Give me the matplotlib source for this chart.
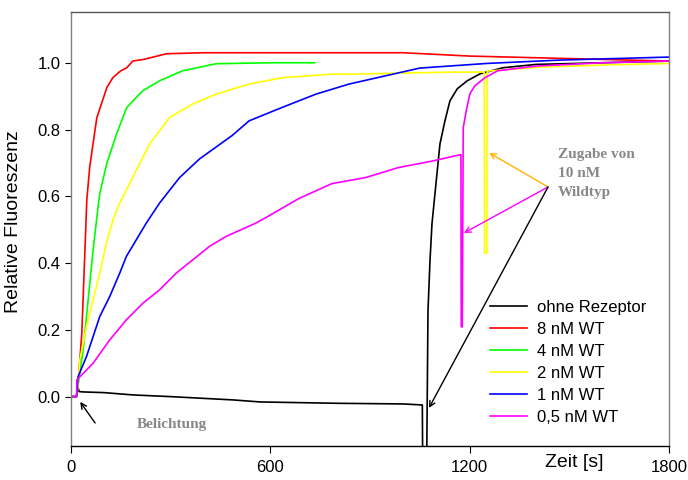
import matplotlib
matplotlib.use("Agg")
import matplotlib.pyplot as plt

plt.rcParams['font.family'] = ['Liberation Sans', 'DejaVu Sans']

# Kinetik-Daten (Zeit in s, relative Fluoreszenz)
t_ohne = [0, 18, 22, 26, 38, 100, 188, 300, 490, 570, 800, 1000, 1058, 1059, 1071, 1075, 1081, 1087,
          1096, 1111, 1126, 1141, 1163, 1193, 1232, 1300, 1400, 1600, 1800]
v_ohne = [0, 0, 0.03, 0.015, 0.014, 0.012, 0.005, 0.0, -0.01, -0.016, -0.02, -0.022, -0.025, -0.2, -0.2,
          0.257, 0.407, 0.518, 0.608, 0.757, 0.826, 0.886, 0.922, 0.946, 0.967, 0.985, 0.995, 1.0, 1.005]

t_8nm = [0, 18, 22, 34, 49, 58, 79, 109, 127, 150, 169, 187, 220, 289, 400, 600, 800, 1000, 1200,
         1400, 1600, 1800]
v_8nm = [0, 0, 0.03, 0.19, 0.59, 0.69, 0.835, 0.925, 0.955, 0.975, 0.985, 1.005, 1.01, 1.027, 1.03,
         1.03, 1.03, 1.03, 1.02, 1.015, 1.01, 1.005]

t_4nm = [0, 18, 22, 38, 53, 68, 83, 88, 109, 139, 169, 217, 268, 337, 438, 600, 735]
v_4nm = [0, 0, 0.03, 0.14, 0.29, 0.44, 0.57, 0.608, 0.698, 0.788, 0.866, 0.916, 0.946, 0.976, 0.997,
         1.0, 1.0]

t_2nm = [0, 18, 22, 28, 48, 68, 88, 108, 128, 148, 157, 187, 238, 298, 367, 438, 536, 636, 786, 857,
         1000, 1150, 1244, 1245, 1252, 1253, 1412, 1600, 1800]
v_2nm = [0, 0, 0.03, 0.11, 0.21, 0.29, 0.37, 0.46, 0.53, 0.58, 0.597, 0.656, 0.757, 0.836, 0.876,
         0.906, 0.936, 0.955, 0.966, 0.966, 0.969, 0.972, 0.972, 0.43, 0.43, 0.975, 0.987, 0.993, 0.998]

t_1nm = [0, 18, 23, 48, 68, 88, 118, 148, 168, 198, 228, 268, 328, 388, 486, 537, 636, 738, 837, 1050,
         1253, 1472, 1800]
v_1nm = [0, 0, 0.06, 0.12, 0.18, 0.24, 0.30, 0.37, 0.42, 0.47, 0.52, 0.58, 0.656, 0.712, 0.782, 0.826,
         0.866, 0.906, 0.936, 0.984, 0.998, 1.008, 1.017]

t_05nm = [0, 18, 19, 68, 118, 168, 218, 268, 318, 368, 418, 468, 558, 587, 686, 786, 887, 986, 1085,
          1174, 1175, 1178, 1181, 1190, 1201, 1216, 1246, 1285, 1400, 1600, 1800]
v_05nm = [0, 0, 0.05, 0.10, 0.17, 0.23, 0.28, 0.32, 0.37, 0.41, 0.45, 0.48, 0.52, 0.536, 0.593, 0.638,
          0.656, 0.686, 0.705, 0.725, 0.209, 0.209, 0.805, 0.856, 0.907, 0.931, 0.955, 0.976, 0.99, 1.0, 1.005]

x_ticks = [0, 600, 1200, 1800]
y_ticks = [0.0, 0.2, 0.4, 0.6, 0.8, 1.0]

fig = plt.figure(figsize=(6.88, 4.8), dpi=100)
ax = fig.add_axes([0.1025, 0.0708, 0.87, 0.9042])

lw = 1.2
ax.plot(t_ohne, v_ohne, color='black', lw=lw, label='ohne Rezeptor')
ax.plot(t_8nm, v_8nm, color='#ff0000', lw=lw, label='8 nM WT')
ax.plot(t_4nm, v_4nm, color='#00ff00', lw=lw, label='4 nM WT')
ax.plot(t_2nm, v_2nm, color='#ffff00', lw=lw, label='2 nM WT')
ax.plot(t_1nm, v_1nm, color='#0000ff', lw=lw, label='1 nM WT')
ax.plot(t_05nm, v_05nm, color='#ff00ff', lw=lw, label='0,5 nM WT')

ax.set_xlim(0, 1800)
ax.set_ylim(-0.148, 1.152)
ax.set_xticks(x_ticks)
ax.set_xticklabels([str(x) for x in x_ticks])
ax.set_yticks(y_ticks)
ax.set_yticklabels(['%.1f' % y for y in y_ticks])
ax.tick_params(axis='y', direction='out', length=4.3, width=0.8, labelsize=12, pad=3)
ax.tick_params(axis='x', direction='out', length=5, width=0.8, labelsize=12, pad=5)

ax.spines['left'].set_color('#808080')
ax.spines['right'].set_color('#808080')
ax.spines['top'].set_color('#555555')
ax.spines['bottom'].set_color('black')
for s in ax.spines.values():
    s.set_linewidth(1)

ax.set_ylabel('Relative Fluoreszenz', fontsize=14)
ax.yaxis.set_label_coords(-0.081, 0.516)
ax.text(1514, -0.198, 'Zeit [s]', fontsize=14, ha='center', va='center', clip_on=False)

leg = ax.legend(loc='upper left', bbox_to_anchor=(0.701, 0.336), frameon=False, fontsize=12,
                handlelength=2.2, handletextpad=0.6, labelspacing=0.42, borderpad=0, borderaxespad=0)

# Beschriftungen mit Pfeilen
gray = '#888888'
serif = ['Liberation Serif', 'DejaVu Serif']
ax.text(1466, 0.745, 'Zugabe von\n10 nM\nWildtyp', fontsize=11, fontweight='bold', color=gray,
        family=serif, ha='left', va='top', linespacing=1.6)
tail = (1436, 0.628)
ax.annotate('', xy=(1259, 0.73), xytext=tail,
            arrowprops=dict(arrowstyle='->', color='#ffb300', lw=1, shrinkA=0, shrinkB=0))
ax.annotate('', xy=(1183, 0.49), xytext=tail,
            arrowprops=dict(arrowstyle='->', color='#ff00ff', lw=1, shrinkA=0, shrinkB=0))
ax.annotate('', xy=(1078, -0.034), xytext=tail,
            arrowprops=dict(arrowstyle='->', color='black', lw=1, shrinkA=0, shrinkB=0))

ax.text(306, -0.085, 'Belichtung', fontsize=11, fontweight='bold', color=gray, family=serif,
        ha='center', va='center')
ax.annotate('', xy=(29, -0.016), xytext=(74, -0.079),
            arrowprops=dict(arrowstyle='->', color='black', lw=1, shrinkA=0, shrinkB=0))

fig.savefig('out.png', dpi=100)
